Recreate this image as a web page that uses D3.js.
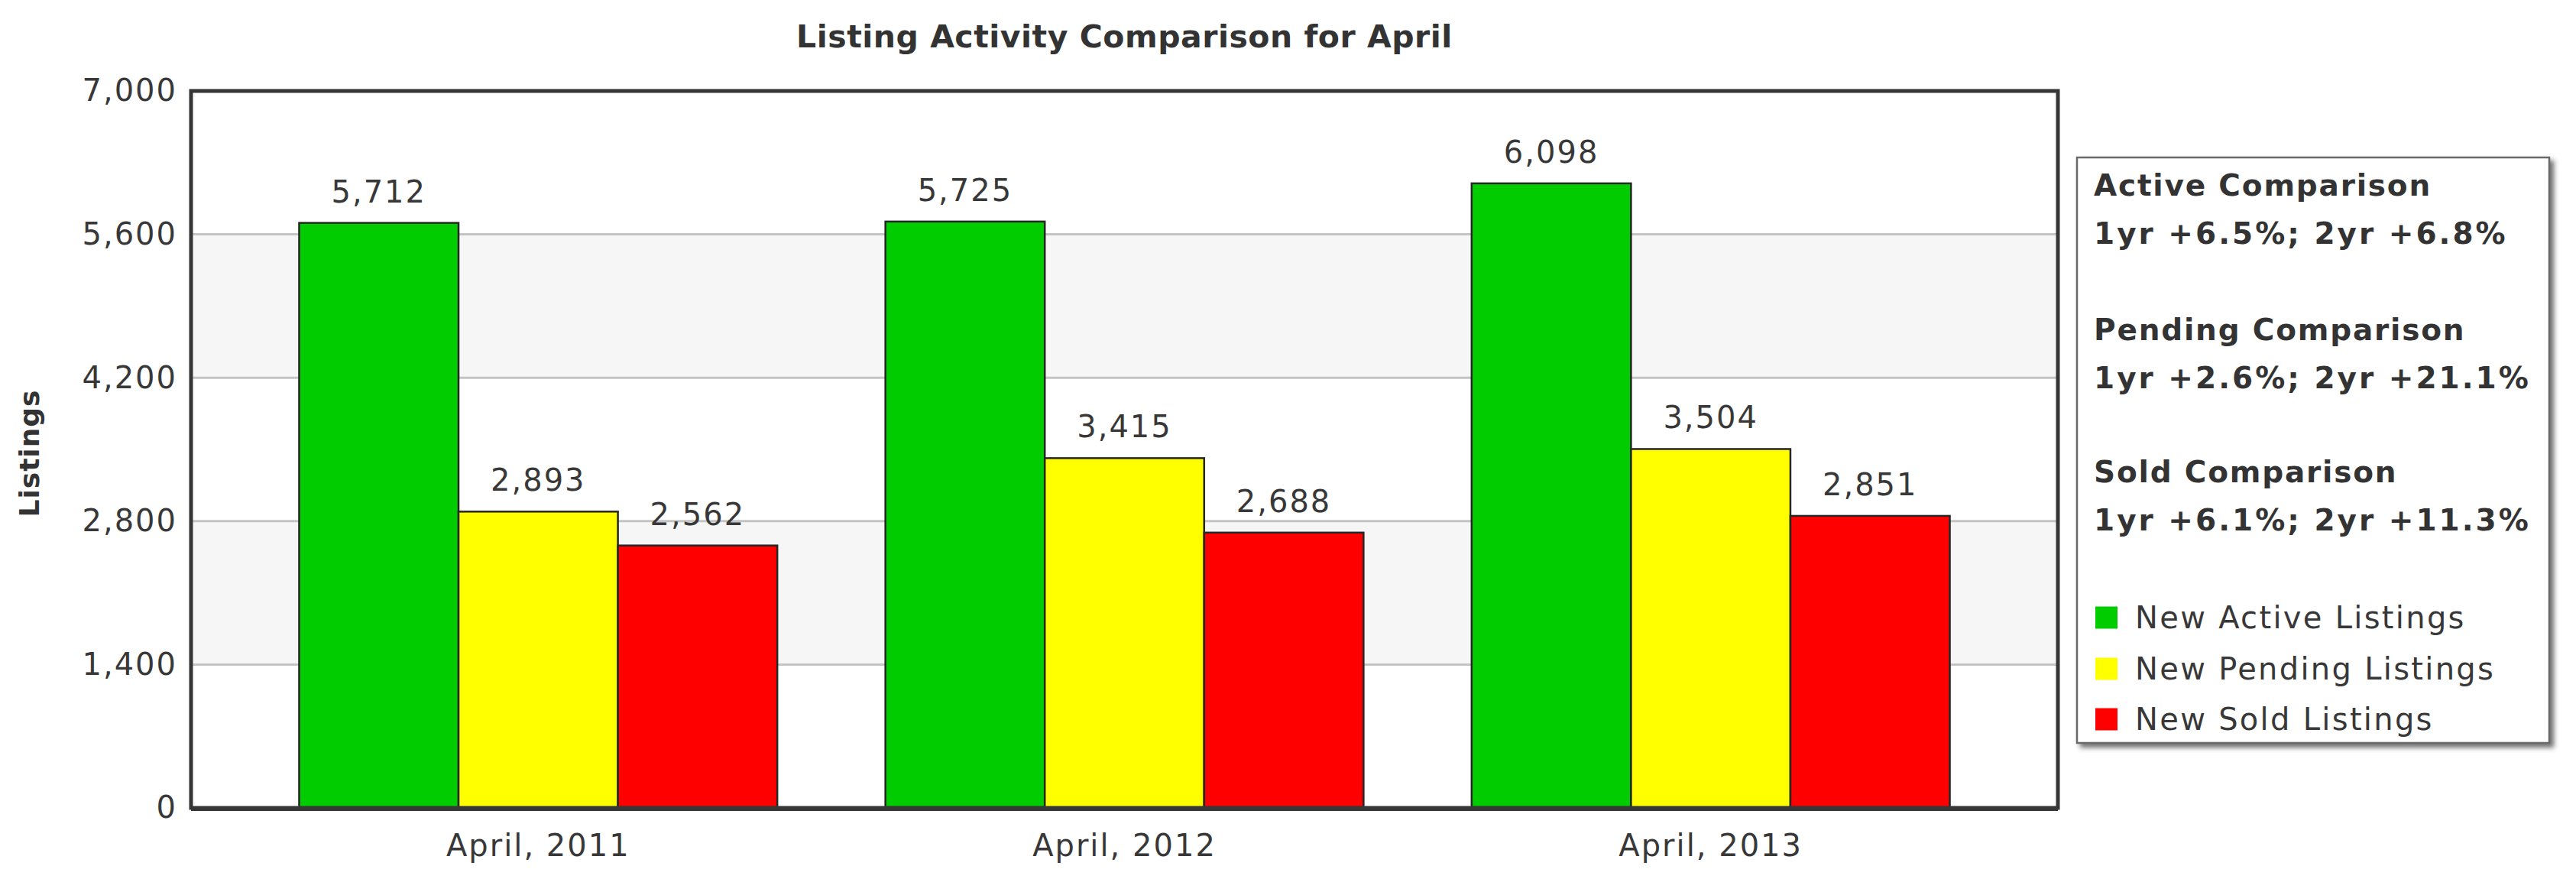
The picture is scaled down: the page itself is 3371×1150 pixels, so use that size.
<!DOCTYPE html>
<html>
<head>
<meta charset="utf-8">
<script src="https://cdn.jsdelivr.net/npm/d3@7"></script>
<style>
  html, body { margin: 0; padding: 0; background: #ffffff; }
  svg { display: block; }
  text { font-family: "DejaVu Sans", Verdana, sans-serif; }
</style>
</head>
<body>
<svg id="chart" width="3371" height="1150"></svg>
<script>
// ---------- data ----------
const chartTitle = "Listing Activity Comparison for April";
const yAxisTitle = "Listings";
const categories = ["April, 2011", "April, 2012", "April, 2013"];
const seriesNames = ["New Active Listings", "New Pending Listings", "New Sold Listings"];
const activeValues = [5712, 5725, 6098];
const pendingValues = [2893, 3415, 3504];
const soldValues = [2562, 2688, 2851];
const yTicks = [0, 1400, 2800, 4200, 5600, 7000];
const seriesColors = ["#00cc00", "#ffff00", "#ff0000"];
const comparisonTitles = ["Active Comparison", "Pending Comparison", "Sold Comparison"];
const comparisonTexts = ["1yr +6.5%; 2yr +6.8%", "1yr +2.6%; 2yr +21.1%", "1yr +6.1%; 2yr +11.3%"];

// table built from arrays
const seriesValues = [activeValues, pendingValues, soldValues];
const table = categories.map((c, i) => ({
  category: c,
  values: seriesNames.map((s, j) => ({ series: s, idx: j, value: seriesValues[j][i] }))
}));

// ---------- layout ----------
const plot = { left: 250, right: 2693, top: 119, bottom: 1057 };
const svg = d3.select("#chart");

const y = d3.scaleLinear().domain([0, 7000]).range([plot.bottom, plot.top]);
const x0 = d3.scaleBand().domain(categories).range([plot.left, plot.right])
  .paddingInner(0.1844).paddingOuter(0.1844);
const x1 = d3.scaleBand().domain(seriesNames).range([0, x0.bandwidth()]).padding(0);
const color = d3.scaleOrdinal().domain(seriesNames).range(seriesColors);

// defs: drop shadow
const defs = svg.append("defs");
const f = defs.append("filter").attr("id", "shadow")
  .attr("x", "-5%").attr("y", "-5%").attr("width", "115%").attr("height", "115%");
f.append("feDropShadow").attr("dx", 5).attr("dy", 5).attr("stdDeviation", 3)
  .attr("flood-color", "#444").attr("flood-opacity", 0.75);

// background bands (alternating)
const bandPairs = d3.pairs(yTicks);
svg.append("g").selectAll("rect").data(bandPairs).join("rect")
  .attr("x", plot.left)
  .attr("width", plot.right - plot.left)
  .attr("y", d => y(d[1]))
  .attr("height", d => y(d[0]) - y(d[1]))
  .attr("fill", (d, i) => (i % 2 === 1) ? "#f6f6f6" : "#ffffff");

// gridlines
svg.append("g").selectAll("line").data(yTicks.slice(1, -1)).join("line")
  .attr("x1", plot.left).attr("x2", plot.right)
  .attr("y1", d => y(d)).attr("y2", d => y(d))
  .attr("stroke", "#c4c4c4").attr("stroke-width", 3);

// bars
const groups = svg.append("g").selectAll("g").data(table).join("g")
  .attr("transform", d => `translate(${x0(d.category)},0)`);

groups.selectAll("rect").data(d => d.values).join("rect")
  .attr("x", d => x1(d.series))
  .attr("width", x1.bandwidth())
  .attr("y", d => y(d.value))
  .attr("height", d => y(0) - y(d.value))
  .attr("fill", d => color(d.series))
  .attr("stroke", "#262626").attr("stroke-width", 2.5);

// value labels
groups.selectAll("text").data(d => d.values).join("text")
  .attr("x", d => x1(d.series) + x1.bandwidth() / 2)
  .attr("y", d => y(d.value) - 27)
  .attr("text-anchor", "middle")
  .style("font-size", "40px")
  .style("letter-spacing", "2px")
  .attr("fill", "#383838")
  .text(d => d3.format(",")(d.value));

// plot border
svg.append("rect")
  .attr("x", plot.left).attr("y", plot.top)
  .attr("width", plot.right - plot.left).attr("height", plot.bottom - plot.top)
  .attr("fill", "none").attr("stroke", "#363636").attr("stroke-width", 5);
svg.append("line")
  .attr("x1", plot.left).attr("x2", plot.right)
  .attr("y1", plot.bottom + 1).attr("y2", plot.bottom + 1)
  .attr("stroke", "#363636").attr("stroke-width", 6);

// y axis
const yAxis = svg.append("g")
  .attr("transform", `translate(${plot.left},0)`)
  .call(d3.axisLeft(y).tickValues(yTicks).tickFormat(d3.format(",")).tickSize(0).tickPadding(18));
yAxis.select(".domain").remove();
yAxis.selectAll("text")
  .style("font-size", "40px").style("letter-spacing", "2px")
  .attr("fill", "#383838").attr("font-family", null);

// x axis
const xAxis = svg.append("g")
  .attr("transform", `translate(0,${plot.bottom})`)
  .call(d3.axisBottom(x0).tickSize(0).tickPadding(35));
xAxis.select(".domain").remove();
xAxis.selectAll("text")
  .style("font-size", "40px").style("letter-spacing", "2px")
  .attr("fill", "#383838").attr("font-family", null);

// title
svg.append("text")
  .attr("x", (plot.left + plot.right) / 2).attr("y", 62)
  .attr("text-anchor", "middle")
  .style("font-size", "41px").style("font-weight", "bold")
  .style("letter-spacing", "0.5px")
  .attr("fill", "#333333")
  .text(chartTitle);

// y axis title
svg.append("text")
  .attr("transform", "translate(51,593) rotate(-90)")
  .attr("text-anchor", "middle")
  .style("font-size", "36px").style("font-weight", "bold")
  .style("letter-spacing", "1px")
  .attr("fill", "#333333")
  .text(yAxisTitle);

// legend box
const lg = { x: 2718, y: 206, w: 618, h: 766 };
svg.append("rect")
  .attr("x", lg.x).attr("y", lg.y).attr("width", lg.w).attr("height", lg.h)
  .attr("fill", "#ffffff").attr("stroke", "#6a6a6a").attr("stroke-width", 2.5)
  .attr("filter", "url(#shadow)");

const cmpBase = [256, 445, 631];
const legendG = svg.append("g");
comparisonTitles.forEach((t, i) => {
  legendG.append("text")
    .attr("x", 2740).attr("y", cmpBase[i])
    .style("font-size", "39px").style("font-weight", "bold").style("letter-spacing", "1.8px")
    .attr("fill", "#333333").text(t);
  legendG.append("text")
    .attr("x", 2740).attr("y", cmpBase[i] + 63)
    .style("font-size", "39px").style("font-weight", "bold").style("letter-spacing", "3px")
    .attr("fill", "#333333").text(comparisonTexts[i]);
});

const itemCenters = [808, 875, 941];
const items = legendG.selectAll("g.item").data(seriesNames).join("g").attr("class", "item")
  .attr("transform", (d, i) => `translate(2742,${itemCenters[i]})`);
items.append("rect")
  .attr("x", 0).attr("y", -14.5).attr("width", 29).attr("height", 29)
  .attr("fill", d => color(d));
items.append("text")
  .attr("x", 52).attr("y", 14)
  .style("font-size", "40px").style("letter-spacing", "2.3px")
  .attr("fill", "#383838")
  .text(d => d);
</script>
</body>
</html>
